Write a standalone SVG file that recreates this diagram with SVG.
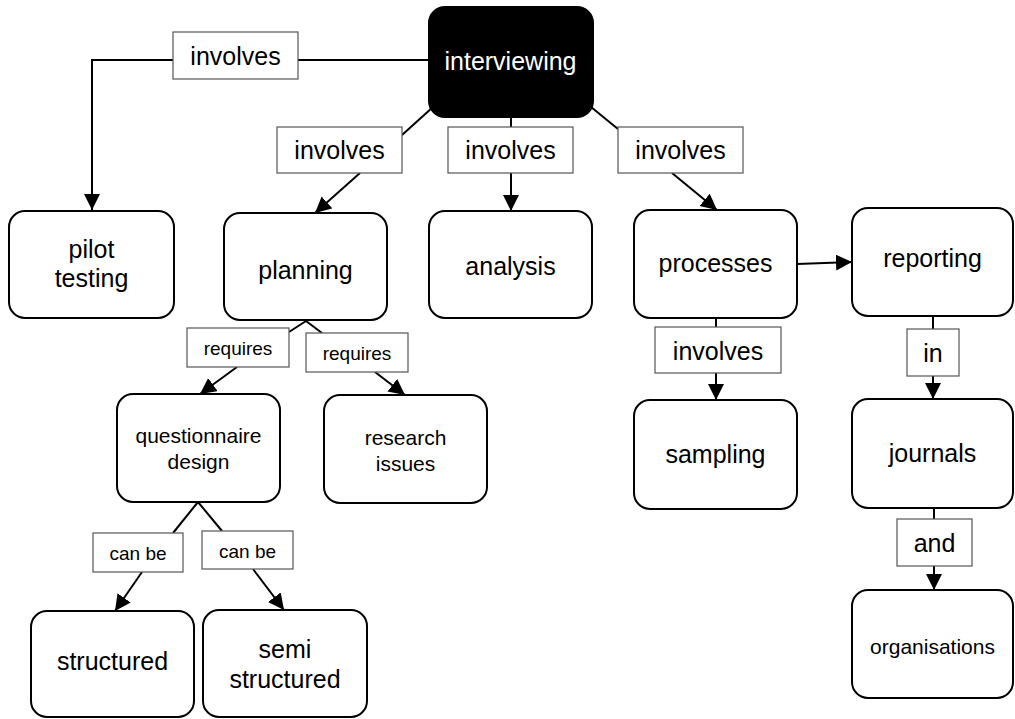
<svg xmlns="http://www.w3.org/2000/svg" width="1015" height="719" viewBox="0 0 1015 719">
<style>
  .node rect { fill: #ffffff; stroke: #000000; stroke-width: 2; }
  .root rect { fill: #000000; stroke: #000000; stroke-width: 2; }
  .lbl rect { fill: #ffffff; stroke: #555555; stroke-width: 1.2; }
  text { font-family: "Liberation Sans", Arial, Helvetica, sans-serif; text-anchor: middle; fill: #000000; }
  .big { font-size: 25px; }
  .mid { font-size: 21px; }
  .small { font-size: 19px; }
  .root text { fill: #ffffff; }
  .conn line, .conn path { stroke: #000000; stroke-width: 2; fill: none; }
</style>
<defs>
  <marker id="arr" markerUnits="userSpaceOnUse" markerWidth="17" markerHeight="17" refX="16" refY="8" orient="auto">
    <path d="M0,0 L16,8 L0,16 z" fill="#000000"/>
  </marker>
</defs>
<rect x="0" y="0" width="1015" height="719" fill="#ffffff"/>

<g id="connectors" class="conn">
  <line x1="429" y1="60" x2="298" y2="60"/>
  <path d="M173,60 H92 V210" marker-end="url(#arr)"/>
  <line x1="433" y1="107" x2="402" y2="135"/>
  <line x1="360" y1="173" x2="315" y2="213" marker-end="url(#arr)"/>
  <line x1="511" y1="117" x2="511" y2="127"/>
  <line x1="511" y1="173" x2="511" y2="211" marker-end="url(#arr)"/>
  <line x1="591" y1="107" x2="618" y2="129"/>
  <line x1="672" y1="173" x2="717" y2="210" marker-end="url(#arr)"/>
  <line x1="797" y1="264" x2="852" y2="262" marker-end="url(#arr)"/>
  <line x1="716" y1="318" x2="716" y2="327"/>
  <line x1="716" y1="373" x2="716" y2="400" marker-end="url(#arr)"/>
  <line x1="933" y1="316" x2="933" y2="329"/>
  <line x1="933" y1="376" x2="933" y2="399" marker-end="url(#arr)"/>
  <line x1="934" y1="508" x2="934" y2="519"/>
  <line x1="934" y1="566" x2="934" y2="590" marker-end="url(#arr)"/>
  <line x1="306" y1="321" x2="289" y2="332"/>
  <line x1="306" y1="321" x2="322" y2="333"/>
  <line x1="237" y1="367" x2="200" y2="394" marker-end="url(#arr)"/>
  <line x1="375" y1="372" x2="405" y2="395" marker-end="url(#arr)"/>
  <line x1="198" y1="502" x2="173" y2="533"/>
  <line x1="198" y1="502" x2="222" y2="531"/>
  <line x1="142" y1="572" x2="115" y2="611" marker-end="url(#arr)"/>
  <line x1="253" y1="569" x2="284" y2="610" marker-end="url(#arr)"/>
</g>

<g id="labels">
  <g id="lbl-involves-pilot" class="lbl"><rect x="173" y="32" width="125" height="47"/><text class="big" x="235.5" y="65">involves</text></g>
  <g id="lbl-involves-planning" class="lbl"><rect x="277" y="127" width="125" height="46"/><text class="big" x="339.5" y="159">involves</text></g>
  <g id="lbl-involves-analysis" class="lbl"><rect x="448" y="127" width="125" height="46"/><text class="big" x="510.5" y="159">involves</text></g>
  <g id="lbl-involves-processes" class="lbl"><rect x="618" y="127" width="125" height="46"/><text class="big" x="680.5" y="159">involves</text></g>
  <g id="lbl-involves-sampling" class="lbl"><rect x="655" y="327" width="126" height="46"/><text class="big" x="718" y="360">involves</text></g>
  <g id="lbl-in" class="lbl"><rect x="907" y="329" width="52" height="47"/><text class="big" x="933" y="362">in</text></g>
  <g id="lbl-and" class="lbl"><rect x="897" y="519" width="75" height="47"/><text class="big" x="934.5" y="552">and</text></g>
  <g id="lbl-requires-1" class="lbl"><rect x="187" y="328" width="102" height="39"/><text class="small" x="238" y="355">requires</text></g>
  <g id="lbl-requires-2" class="lbl"><rect x="306" y="333" width="102" height="39"/><text class="small" x="357" y="360">requires</text></g>
  <g id="lbl-canbe-1" class="lbl"><rect x="93" y="533" width="90" height="39"/><text class="small" x="138" y="560">can be</text></g>
  <g id="lbl-canbe-2" class="lbl"><rect x="202" y="531" width="91" height="38"/><text class="small" x="247.5" y="558">can be</text></g>
</g>

<g id="node-interviewing" class="root"><rect x="429" y="7" width="164" height="110" rx="16"/><text class="big" x="510.5" y="70">interviewing</text></g>
<g id="node-pilot-testing" class="node"><rect x="9" y="211" width="165" height="107" rx="16"/><text class="big" x="91.5" y="258">pilot</text><text class="big" x="91.5" y="287">testing</text></g>
<g id="node-planning" class="node"><rect x="224" y="213" width="163" height="107" rx="16"/><text class="big" x="305.5" y="279">planning</text></g>
<g id="node-analysis" class="node"><rect x="429" y="211" width="163" height="107" rx="16"/><text class="big" x="510.5" y="275">analysis</text></g>
<g id="node-processes" class="node"><rect x="634" y="210" width="163" height="108" rx="16"/><text class="big" x="715.5" y="272">processes</text></g>
<g id="node-reporting" class="node"><rect x="852" y="208" width="161" height="108" rx="16"/><text class="big" x="932.5" y="267">reporting</text></g>
<g id="node-questionnaire-design" class="node"><rect x="117" y="394" width="163" height="108" rx="16"/><text class="mid" x="198.5" y="443">questionnaire</text><text class="mid" x="198.5" y="469">design</text></g>
<g id="node-research-issues" class="node"><rect x="324" y="395" width="163" height="108" rx="16"/><text class="mid" x="405.5" y="445">research</text><text class="mid" x="405.5" y="471">issues</text></g>
<g id="node-sampling" class="node"><rect x="634" y="400" width="163" height="109" rx="16"/><text class="big" x="715.5" y="463">sampling</text></g>
<g id="node-journals" class="node"><rect x="852" y="399" width="161" height="109" rx="16"/><text class="big" x="932.5" y="462">journals</text></g>
<g id="node-organisations" class="node"><rect x="852" y="590" width="161" height="108" rx="16"/><text class="mid" x="932.5" y="654">organisations</text></g>
<g id="node-structured" class="node"><rect x="31" y="611" width="163" height="106" rx="16"/><text class="big" x="112.5" y="670">structured</text></g>
<g id="node-semi-structured" class="node"><rect x="203" y="610" width="164" height="107" rx="16"/><text class="big" x="285" y="658">semi</text><text class="big" x="285" y="688">structured</text></g>
</svg>
